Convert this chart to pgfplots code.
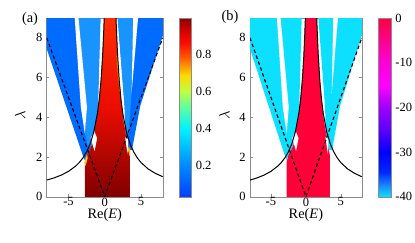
\documentclass[border=0pt]{standalone}
\usepackage{pgfplots}
\pgfplotsset{compat=1.18}
\usepackage{fontspec}
\setmainfont{Liberation Serif}
\definecolor{blA}{rgb}{0,0.42,1}
\definecolor{blB}{rgb}{0.1,0.58,1}
\definecolor{cyB}{rgb}{0.05,0.88,1}
\definecolor{rdB}{rgb}{1,0,0.22}
\definecolor{axg}{rgb}{0.55,0.55,0.55}
\definecolor{rdTop}{rgb}{1,0.18,0.03}
\definecolor{rdMid}{rgb}{0.92,0.05,0}
\definecolor{rdBot}{rgb}{0.5,0,0}
\pgfplotsset{
  every axis/.append style={
    /pgf/number format/assume math mode=true,
    tick label style={font=\fontsize{10}{12}\selectfont},
    axis line style={axg}, tick style={axg, line width=0.4pt},
  },
  panel/.style={
    scale only axis, height=143pt,
    xmin=-8, xmax=8, ymin=0, ymax=9,
    xtick={-5,0,5}, ytick={0,2,4,6,8},
    tick align=inside, major tick length=2pt,
    anchor=south west,
    no markers,
    xticklabel style={inner sep=0.6pt},
    xlabel={Re(\textit{E})}, ylabel={$\lambda$},
    label style={font=\fontsize{11.5}{13}\selectfont},
    xlabel style={at={(axis description cs:0.5,0)}, anchor=north, inner sep=0pt, yshift=-9.2pt},
    ylabel style={at={(axis description cs:-0.23,0.457)}, anchor=center, inner sep=0pt},
    colorbar,
  },
}
\begin{document}
\begin{tikzpicture}[x=1pt,y=1pt]
\path[use as bounding box] (0,0) rectangle (332,193.6);
% ---------------- panel (a)
\begin{axis}[panel, at={(37.4pt,36.2pt)}, width=92.8pt,
  colormap={cmA}{[1pt] rgb(0pt)=(0,0.25,1) rgb(18pt)=(0,0.55,1) rgb(38pt)=(0,0.95,1) rgb(51pt)=(0.4,1,0.6) rgb(59pt)=(0.75,1,0.25) rgb(68pt)=(1,0.85,0) rgb(78pt)=(1,0.35,0) rgb(86pt)=(1,0.05,0) rgb(94pt)=(0.8,0,0) rgb(100pt)=(0.55,0,0)},
  point meta min=0.027, point meta max=1,
  colorbar style={at={(parent axis.north east)}, anchor=north west, xshift=4.8pt, width=9.6pt,
    ytick={0.2,0.4,0.6,0.8}, major tick length=0pt,
    yticklabel style={/pgf/number format/fixed, /pgf/number format/precision=1}},
]
% left blue region
\addplot[draw=none, fill=blA] coordinates {(-8,9) (-0.6,9) (-0.95,4.5) (-1.1,4.0) (-1.36,3.5) (-1.55,3.0) (-1.8,2.6) (-2.1,2.35) (-2.5,2.1) (-2.75,1.85) (-2.9,1.95) (-8,7.44)};
\addplot[draw=none, fill=blB] coordinates {(-3.7,9) (-0.6,9) (-0.95,4.5) (-1.36,3.5) (-1.8,2.6) (-2.3,2.5) (-2.75,3.2) (-2.45,4.5)};
\addplot[draw=none, fill=white] coordinates {(-4.2,9.3) (-3.7,9.3) (-2.45,4.5) (-2.75,3.2) (-3.3,4.5)};
% right blue region
\addplot[draw=none, fill=blA] coordinates {(1.79,9) (8,9) (8,8.1) (4.9,4.58) (3.75,2.35) (3.35,2.35) (3.05,2.7) (2.85,3.3) (2.75,4.5)};
\addplot[draw=none, fill=blB] coordinates {(1.79,9) (3.94,9) (3.7,5.2) (3.3,3.2) (2.85,3.3) (2.75,4.5)};
\addplot[draw=none, fill=white] coordinates {(3.94,9.3) (4.66,9.3) (3.7,5.2)};
% red region
\addplot[draw=none, top color=rdTop, bottom color=rdBot, middle color=rdMid] coordinates {(-2.75,0) (3.45,0) (3.45,2.05) (3.3,2.35) (3.05,2.7) (2.85,3.3) (2.55,3.9) (2.37,4.5) (2.21,5) (1.96,6) (1.79,7) (1.66,8) (1.556,9) (-0.076,9) (-0.15,8.25) (-0.3,7.06) (-0.5,5.92) (-0.75,4.93) (-0.89,4.5) (-1.1,4.0) (-1.36,3.5) (-1.55,3.0) (-1.8,2.6) (-2.1,2.35) (-2.5,2.1) (-2.75,1.75)};
% fringes
\addplot[line width=0.9pt, color={rgb,1:red,1;green,0.75;blue,0}] coordinates {(2.12,5.3) (1.9,6.1) (1.72,7.1)};
\addplot[draw=none, fill={rgb,1:red,1;green,0.8;blue,0}] coordinates {(-2.8,1.7) (-2.45,2.15) (-2.35,1.95) (-2.65,1.55)};
\addplot[draw=none, fill={rgb,1:red,1;green,0.75;blue,0}] coordinates {(3.2,2.35) (3.45,2.05) (3.5,2.35) (3.3,2.55)};
% notches
\addplot[draw=none, fill=white] coordinates {(-1.95,2.95) (-1.45,3.3) (-1.05,2.95) (-1.4,2.3)};
\addplot[draw=none, fill=white] coordinates {(2.8,3.0) (3.25,2.9) (3.15,2.15)};
% curves
\addplot[black, line width=0.8pt] coordinates {(-8,0.84) (-7,0.948) (-6,1.089) (-5,1.279) (-4,1.549) (-3.5,1.731) (-3,1.963) (-2.5,2.265) (-2,2.679) (-1.5,3.277) (-1,4.218) (-0.75,4.926) (-0.5,5.919) (-0.3,7.058) (-0.15,8.247) (-0.076,9)};
\addplot[black, line width=0.8pt] coordinates {(1.556,9) (1.6,8.535) (1.75,7.267) (2,5.825) (2.25,4.861) (2.5,4.17) (3,3.248) (3.5,2.659) (4,2.252) (4.5,1.952) (5,1.723) (6,1.395) (7,1.173) (8,1.011)};
\addplot[black, line width=0.9pt, dash pattern=on 2.8pt off 2.2pt] coordinates {(-8,8) (0,0) (8,8)};
\end{axis}
% ---------------- panel (b)
\begin{axis}[panel, at={(200pt,36.2pt)}, width=89.4pt,
  colormap={cmB}{[1pt] rgb(0pt)=(0.05,0.88,1) rgb(6pt)=(0.1,0.55,1) rgb(14pt)=(0,0.15,1) rgb(25pt)=(0,0,1) rgb(37pt)=(0.35,0,1) rgb(50pt)=(0.62,0,1) rgb(62pt)=(1,0,1) rgb(75pt)=(1,0,0.85) rgb(88pt)=(1,0,0.55) rgb(100pt)=(1,0,0.25)},
  point meta min=-40, point meta max=0,
  colorbar style={at={(parent axis.north east)}, anchor=north west, xshift=5pt, width=9.9pt,
    ytick={-40,-30,-20,-10,0}, major tick length=0pt},
]
\addplot[draw=none, fill=cyB] coordinates {(-8,9) (-0.6,9) (-0.95,4.5) (-1.1,4.0) (-1.36,3.5) (-1.55,3.0) (-1.8,2.6) (-2.1,2.35) (-2.5,2.1) (-2.75,1.85) (-2.9,1.95) (-8,7.44)};
\addplot[draw=none, fill=white] coordinates {(-4.2,9.3) (-3.7,9.3) (-2.45,4.5) (-2.75,3.2) (-3.3,4.5)};
\addplot[draw=none, fill=cyB] coordinates {(1.79,9) (8,9) (8,8.1) (4.9,4.58) (3.75,2.35) (3.35,2.35) (3.05,2.7) (2.85,3.3) (2.75,4.5)};
\addplot[draw=none, fill=white] coordinates {(3.94,9.3) (4.66,9.3) (3.7,5.2)};
\addplot[draw=none, fill=rdB] coordinates {(-2.75,0) (3.45,0) (3.45,2.05) (3.3,2.35) (3.05,2.7) (2.85,3.3) (2.55,3.9) (2.37,4.5) (2.21,5) (1.96,6) (1.79,7) (1.66,8) (1.556,9) (-0.076,9) (-0.15,8.25) (-0.3,7.06) (-0.5,5.92) (-0.75,4.93) (-0.89,4.5) (-1.1,4.0) (-1.36,3.5) (-1.55,3.0) (-1.8,2.6) (-2.1,2.35) (-2.5,2.1) (-2.75,1.75)};
\addplot[draw=none, fill=white] coordinates {(-1.95,2.95) (-1.45,3.3) (-1.05,2.95) (-1.4,2.3)};
\addplot[draw=none, fill=white] coordinates {(2.8,3.0) (3.25,2.9) (3.15,2.15)};
\addplot[black, line width=0.8pt] coordinates {(-8,0.84) (-7,0.948) (-6,1.089) (-5,1.279) (-4,1.549) (-3.5,1.731) (-3,1.963) (-2.5,2.265) (-2,2.679) (-1.5,3.277) (-1,4.218) (-0.75,4.926) (-0.5,5.919) (-0.3,7.058) (-0.15,8.247) (-0.076,9)};
\addplot[black, line width=0.8pt] coordinates {(1.556,9) (1.6,8.535) (1.75,7.267) (2,5.825) (2.25,4.861) (2.5,4.17) (3,3.248) (3.5,2.659) (4,2.252) (4.5,1.952) (5,1.723) (6,1.395) (7,1.173) (8,1.011)};
\addplot[black, line width=0.9pt, dash pattern=on 2.8pt off 2.2pt] coordinates {(-8,8) (0,0) (8,8)};
\end{axis}
\node[font=\fontsize{11.5}{13}\selectfont, inner sep=0pt] at (24,178.4) {(a)};
\node[font=\fontsize{11.5}{13}\selectfont, inner sep=0pt] at (184,179.6) {(b)};
\end{tikzpicture}
\end{document}
